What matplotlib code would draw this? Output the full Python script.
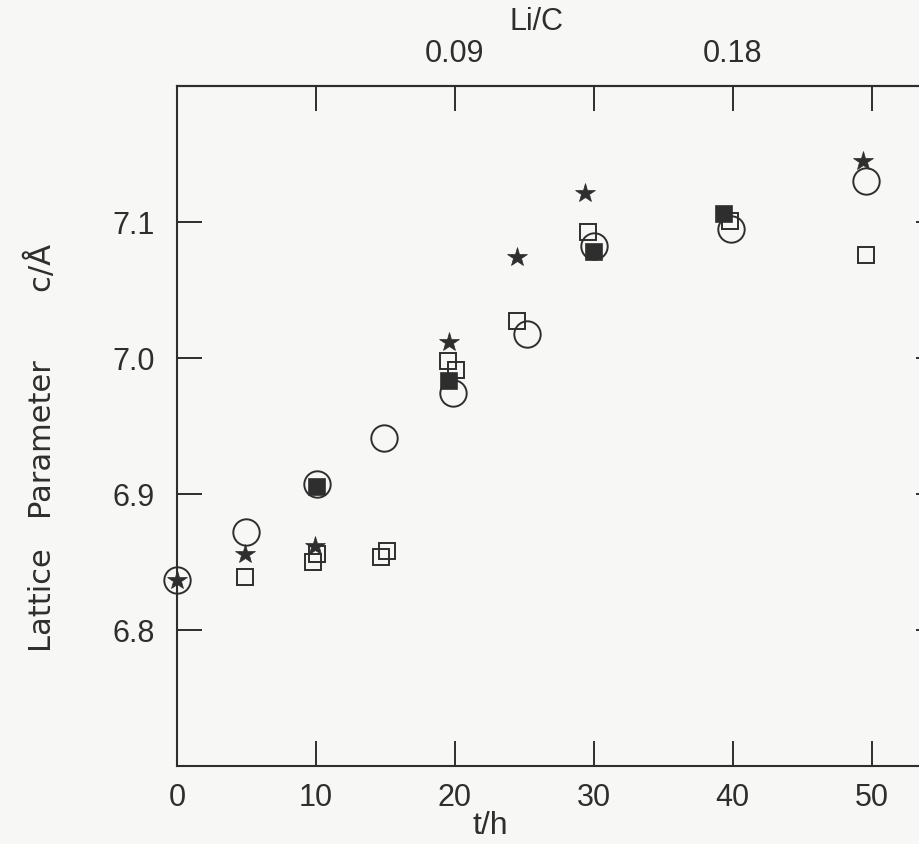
import numpy as np
import matplotlib
matplotlib.use('Agg')
from matplotlib import pyplot as plt

plt.rcParams['font.family'] = ['Liberation Sans', 'DejaVu Sans']

# data (t in hours, c in angstrom)
star_t = [0, 4.9, 9.9, 19.6, 24.5, 29.4, 49.4]
star_c = [6.837, 6.856, 6.862, 7.012, 7.074, 7.121, 7.145]

circle_t = [0, 5.0, 10.1, 14.9, 19.9, 25.2, 30.0, 39.9, 49.6]
circle_c = [6.837, 6.872, 6.907, 6.941, 6.974, 7.018, 7.082, 7.095, 7.130]

square_t = [4.9, 10.1, 15.1, 19.5, 24.5, 29.6, 39.8, 49.6]
square_c = [6.839, 6.856, 6.858, 6.998, 7.027, 7.093, 7.101, 7.076]

square2_t = [9.8, 14.7, 20.1]
square2_c = [6.850, 6.854, 6.991]

filled_t = [10.1, 19.6, 30.0, 39.4]
filled_c = [6.905, 6.983, 7.078, 7.106]

x_ticks = [0, 10, 20, 30, 40, 50]
y_ticks = [6.8, 6.9, 7.0, 7.1]
li_ticks = [0.045, 0.09, 0.135, 0.18, 0.225]
li_labels = ['', '0.09', '', '0.18', '']

ink = '#2e2e2e'
paper = '#f7f7f5'

fig = plt.figure(figsize=(9.2, 8.44), dpi=100, facecolor=paper)
ax = fig.add_axes([177/920, 78/844, 764/920, 680/844], facecolor=paper)

ax.plot(circle_t, circle_c, 'o', ms=19, mfc='none', mec=ink, mew=1.4, ls='none', clip_on=False)
ax.plot(square_t, square_c, 's', ms=12, mfc='none', mec=ink, mew=1.4, ls='none')
ax.plot(square2_t, square2_c, 's', ms=12, mfc='none', mec=ink, mew=1.4, ls='none')
ax.plot(filled_t, filled_c, 's', ms=11, mfc=ink, mec=ink, mew=1.2, ls='none')
ax.plot(star_t, star_c, '*', ms=15, mfc=ink, mec=ink, mew=0.5, ls='none', clip_on=False)

ax.set_xlim(0, 55)
ax.set_ylim(6.7, 7.2)
ax.set_xticks(x_ticks)
ax.set_xticklabels([str(v) for v in x_ticks])
ax.set_yticks(y_ticks)
ax.set_yticklabels(['%.1f' % v for v in y_ticks])

for s in ax.spines.values():
    s.set_color(ink)
    s.set_linewidth(1.5)

ax.tick_params(axis='both', direction='in', length=18, width=1.4, color=ink,
               labelsize=22, labelcolor=ink, right=True)
ax.tick_params(axis='x', pad=12)
ax.tick_params(axis='y', pad=16)

sec = ax.secondary_xaxis('top', functions=(lambda t: t * 0.0045, lambda r: r / 0.0045))
sec.set_xticks(li_ticks)
sec.set_xticklabels(li_labels)
sec.tick_params(direction='in', length=18, width=1.4, color=ink, labelsize=22,
                labelcolor=ink, pad=12)
sec.spines['top'].set_color(ink)
sec.spines['top'].set_linewidth(1.5)
ax.text(0.47, 1.094, 'Li/C', transform=ax.transAxes, ha='center', va='center',
        fontsize=22, color=ink)

ax.set_xlabel('t/h', fontsize=23, color=ink)
ax.xaxis.set_label_coords(0.41, -0.066)
ax.set_ylabel('Lattice   Parameter       c/Å', fontsize=22, color=ink,
              family=['DejaVu Sans'])
ax.yaxis.set_label_coords(-0.157, 0.468)

fig.savefig('out.png', dpi=100, facecolor=paper)
